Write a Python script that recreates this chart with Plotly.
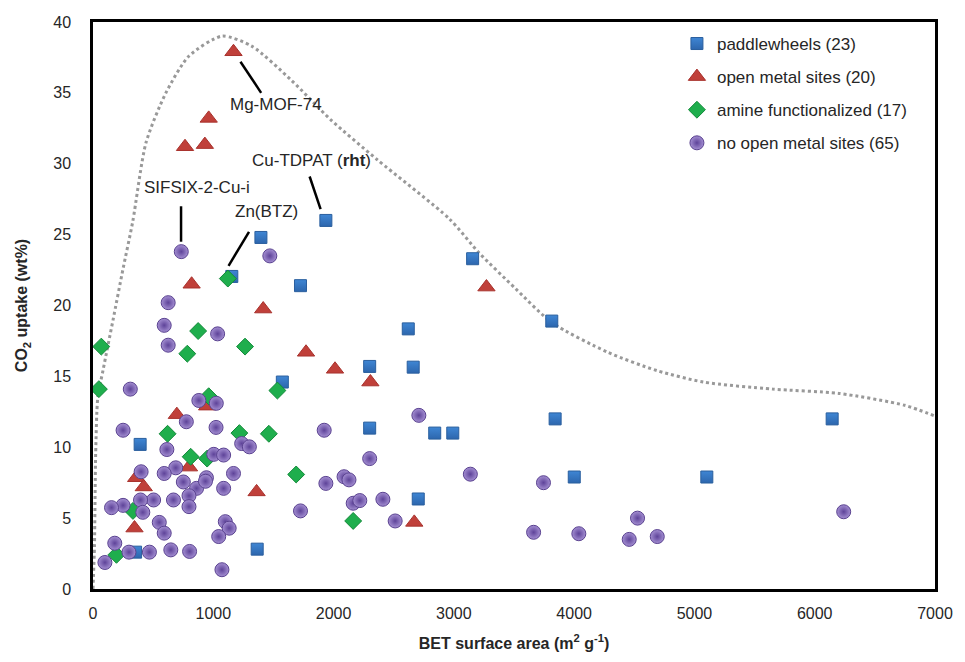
import plotly.graph_objects as go

# ---------------- data ----------------
pw_x = [1936, 1396, 1154, 1725, 3156, 3814, 2621, 2662, 2300, 1574, 3842, 2841, 2991,
        2300, 392, 4001, 5103, 6145, 2704, 354, 1365]
pw_y = [26.0, 24.8, 22.05, 21.4, 23.3, 18.9, 18.35, 15.65, 15.7, 14.6, 12.0, 11.0, 11.0,
        11.35, 10.2, 7.9, 7.9, 12.0, 6.35, 2.6, 2.81]

oms_x = [1168, 962, 765, 930, 820, 1415, 1771, 2012, 2306, 949, 697, 3271, 798, 359,
         422, 1360, 345, 2671]
oms_y = [37.9, 33.2, 31.2, 31.35, 21.5, 19.75, 16.7, 15.5, 14.6, 12.9, 12.3, 21.3, 8.6,
         7.85, 7.2, 6.85, 4.3, 4.7]

am_x = [69, 49, 1121, 874, 1264, 784, 1533, 962, 620, 1217, 1462, 812, 949, 1689,
        2163, 332, 195]
am_y = [17.1, 14.1, 21.9, 18.2, 17.1, 16.6, 14.0, 13.6, 10.95, 11.0, 10.95, 9.33, 9.2,
        8.08, 4.8, 5.51, 2.41]

no_x = [734, 1470, 625, 592, 1036, 625, 310, 880, 1025, 776, 250, 1023, 1922, 2709,
        614, 1236, 1300, 1004, 1086, 2300, 688, 592, 400, 943, 1168, 751, 861, 1086,
        798, 798, 669, 504, 395, 250, 154, 414, 551, 592, 1100, 1132, 1045, 181, 299,
        469, 647, 803, 99, 1072, 1725, 1936, 2087, 2128, 2163, 2218, 2410, 2512, 3137,
        3745, 3663, 4039, 4527, 4458, 4691, 6241, 935]
no_y = [23.8, 23.5, 20.2, 18.6, 18.0, 17.2, 14.1, 13.3, 13.1, 11.8, 11.2, 11.4, 11.2,
        12.25, 9.84, 10.26, 10.03, 9.5, 9.45, 9.2, 8.55, 8.15, 8.27, 7.85, 8.15, 7.55,
        7.1, 7.1, 6.58, 5.81, 6.28, 6.28, 6.28, 5.9, 5.74, 5.41, 4.7, 3.94, 4.75, 4.29,
        3.7, 3.23, 2.6, 2.6, 2.76, 2.65, 1.87, 1.36, 5.51, 7.45, 7.92, 7.7, 6.05, 6.24,
        6.33, 4.8, 8.1, 7.5, 4.0, 3.9, 5.0, 3.5, 3.7, 5.45, 7.6]

env_x = [0, 12, 22, 40, 85, 167, 250, 330, 441, 606, 798, 1072, 1319, 1648, 1977, 2361,
         2964, 3211, 3512, 3814, 4280, 4691, 5075, 5651, 6200, 6748, 7000]
env_y = [0, 3.0, 9.5, 13.5, 15.5, 19.0, 22.6, 25.9, 31.5, 35.0, 37.6, 39.0, 38.3, 35.9,
         33.1, 30.3, 26.1, 23.7, 21.2, 18.8, 16.7, 15.4, 14.6, 14.1, 13.8, 12.96, 12.2]

series_names = ["paddlewheels (23)", "open metal sites (20)",
                "amine functionalized (17)", "no open metal sites (65)"]

x_ticks = [0, 1000, 2000, 3000, 4000, 5000, 6000, 7000]
y_ticks = [0, 5, 10, 15, 20, 25, 30, 35, 40]

# labels: text, text position, leader line ends
lab_names = ["Mg-MOF-74", "Cu-TDPAT (<b>rht</b>)", "SIFSIX-2-Cu-i", "Zn(BTZ)"]
lab_tx = [1119, 1308, 411, 1160]
lab_ty = [34.2, 30.2, 28.3, 26.6]
lab_x0 = [1226, 1801, 732, 1297]
lab_y0 = [37.2, 29.1, 27.0, 25.2]
lab_x1 = [1398, 1892, 732, 1127]
lab_y1 = [35.0, 26.8, 24.5, 22.8]

FONT = "Liberation Sans, Arial, sans-serif"
TXT = "#262626"

fig = go.Figure()

fig.add_trace(go.Scatter(
    x=env_x, y=env_y, mode="lines", showlegend=False, hoverinfo="skip",
    line=dict(color="#999999", width=3, dash="dot", shape="spline", smoothing=0.7)))

fig.add_trace(go.Scatter(
    x=pw_x, y=pw_y, mode="markers", name=series_names[0], legendgroup="a",
    marker=dict(symbol="square", size=12, color="#3f86d4",
                line=dict(color="#2a5f9e", width=1),
                gradient=dict(type="vertical", color="#2d66ad"))))

fig.add_trace(go.Scatter(
    x=oms_x, y=oms_y, mode="markers", name=series_names[1], legendgroup="b",
    marker=dict(symbol="triangle-up", size=15, color="#c0403a",
                line=dict(color="#a8322d", width=1))))

fig.add_trace(go.Scatter(
    x=am_x, y=am_y, mode="markers", name=series_names[2], legendgroup="c",
    marker=dict(symbol="diamond", size=13, color="#1fae4d",
                line=dict(color="#138a3a", width=1))))

fig.add_trace(go.Scatter(
    x=no_x, y=no_y, mode="markers", name=series_names[3], legendgroup="d",
    marker=dict(symbol="circle", size=14, color="#a48fd2",
                line=dict(color="#5a4290", width=1),
                gradient=dict(type="radial", color="#5e4399"))))

for i in range(len(lab_names)):
    fig.add_shape(type="line", x0=lab_x0[i], y0=lab_y0[i], x1=lab_x1[i], y1=lab_y1[i],
                  xref="x", yref="y", line=dict(color="black", width=2.5))
    fig.add_annotation(x=lab_tx[i], y=lab_ty[i], text=lab_names[i], showarrow=False,
                       xanchor="left", yanchor="middle",
                       font=dict(family=FONT, size=17, color=TXT))

fig.update_layout(
    width=965, height=662,
    margin=dict(l=93, r=21, t=22, b=71),
    paper_bgcolor="white", plot_bgcolor="white",
    font=dict(family=FONT, size=16, color=TXT),
    legend=dict(x=0.6935, y=0.993, xanchor="left", yanchor="top",
                bgcolor="rgba(255,255,255,0)", borderwidth=0,
                font=dict(family=FONT, size=17, color=TXT),
                tracegroupgap=8, itemwidth=30),
    xaxis=dict(range=[0, 7000], tickvals=x_ticks, showgrid=False, zeroline=False,
               showline=True, linecolor="black", linewidth=2.5, mirror=True,
               ticks="", ticklabelstandoff=8, tickfont=dict(size=16, color=TXT),
               title=dict(text="<b>BET surface area (m<sup>2</sup> g<sup>-1</sup>)</b>",
                          font=dict(size=16, color=TXT), standoff=17)),
    yaxis=dict(range=[0, 40], tickvals=y_ticks, showgrid=False, zeroline=False,
               showline=True, linecolor="black", linewidth=2.5, mirror=True,
               ticks="", ticklabelstandoff=16, tickfont=dict(size=16, color=TXT),
               title=dict(text="<b>CO<sub>2</sub> uptake (wt%)</b>",
                          font=dict(size=16, color=TXT), standoff=22)),
)

fig.write_html("out.html",
               config={"displayModeBar": False},
               post_script="document.body.style.margin='0px';"
                           "document.body.style.overflow='hidden';")
